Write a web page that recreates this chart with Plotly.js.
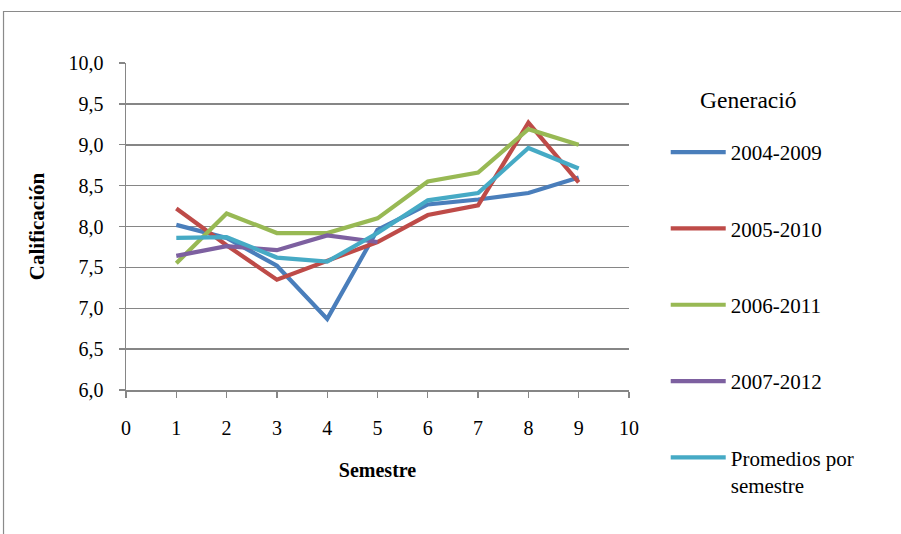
<!DOCTYPE html>
<html>
<head>
<meta charset="utf-8">
<script src="https://cdn.plot.ly/plotly-3.0.1.min.js"></script>
<style>
  html, body { margin: 0; padding: 0; background: #ffffff; }
  #chart { width: 901px; height: 534px; }
</style>
</head>
<body>
<div id="chart"></div>
<script>
// Semesters 1..9 and average grade per cohort
const semestres = [1, 2, 3, 4, 5, 6, 7, 8, 9];
const gen2004 = [8.02, 7.86, 7.52, 6.87, 7.96, 8.27, 8.33, 8.41, 8.60];
const gen2005 = [8.22, 7.77, 7.35, 7.58, 7.81, 8.14, 8.26, 9.27, 8.54];
const gen2006 = [7.55, 8.16, 7.92, 7.92, 8.10, 8.55, 8.66, 9.19, 9.00];
const gen2007 = [7.64, 7.76, 7.71, 7.89, 7.81];
const promedios = [7.86, 7.87, 7.62, 7.57, 7.92, 8.32, 8.41, 8.96, 8.71];

const nombres = ['2004-2009', '2005-2010', '2006-2011', '2007-2012', 'Promedios por<br>semestre'];
const colores = ['#4a7ebb', '#be4b48', '#98b954', '#7d60a0', '#46aac5'];
const series = [gen2004, gen2005, gen2006, gen2007, promedios];

const traces = series.map((vals, i) => ({
  type: 'scatter',
  mode: 'lines',
  x: semestres.slice(0, vals.length),
  y: vals,
  name: nombres[i],
  legendgroup: 'g' + i,
  line: { color: colores[i], width: 4.2 }
}));

const gris = '#868686';
const serif = "'Liberation Serif', 'Times New Roman', Times, serif";

const layout = {
  width: 901,
  height: 534,
  paper_bgcolor: '#ffffff',
  plot_bgcolor: '#ffffff',
  separators: ',.',
  font: { family: serif, size: 20, color: '#000000' },
  margin: { l: 126, r: 272, t: 63, b: 144, pad: 0 },
  showlegend: true,
  legend: {
    x: 1.073, xanchor: 'left',
    y: 0.789, yanchor: 'top',
    maxheight: 500,
    traceorder: 'grouped',
    tracegroupgap: 46,
    valign: 'top',
    itemwidth: 55,
    font: { family: serif, size: 21 },
    bgcolor: 'rgba(0,0,0,0)'
  },
  annotations: [
    { text: 'Generació', xref: 'paper', yref: 'paper', x: 1.137, y: 0.887,
      xanchor: 'left', yanchor: 'middle', showarrow: false,
      font: { family: serif, size: 23.5 } }
  ],
  xaxis: {
    range: [0, 10],
    dtick: 1,
    tick0: 0,
    ticks: 'outside',
    ticklen: 6,
    tickcolor: gris,
    tickwidth: 1.3,
    showline: true,
    linecolor: gris,
    linewidth: 1.5,
    showgrid: false,
    zeroline: false,
    ticklabelstandoff: 13,
    fixedrange: true,
    title: { text: '<b>Semestre</b>', font: { family: serif, size: 20 }, standoff: 25 }
  },
  yaxis: {
    range: [6, 10],
    dtick: 0.5,
    tick0: 6,
    tickformat: '.1f',
    ticks: 'outside',
    ticklen: 6,
    tickcolor: gris,
    tickwidth: 1.3,
    showline: true,
    linecolor: gris,
    linewidth: 1.5,
    showgrid: true,
    gridcolor: gris,
    gridwidth: 1.5,
    zeroline: false,
    ticklabelstandoff: 11,
    fixedrange: true,
    title: { text: '<b>Calificación</b>', font: { family: serif, size: 21 }, standoff: 18 }
  },
  shapes: [
    // outer chart frame (top and left edges visible)
    { type: 'rect', xref: 'paper', yref: 'paper',
      x0: -0.2435, x1: 1.56, y0: -0.47, y1: 1.1575,
      line: { color: '#8a8a8a', width: 1.2 }, fillcolor: 'rgba(0,0,0,0)', layer: 'below' }
  ]
};

Plotly.newPlot('chart', traces, layout, { displayModeBar: false, staticPlot: true });
</script>
</body>
</html>
